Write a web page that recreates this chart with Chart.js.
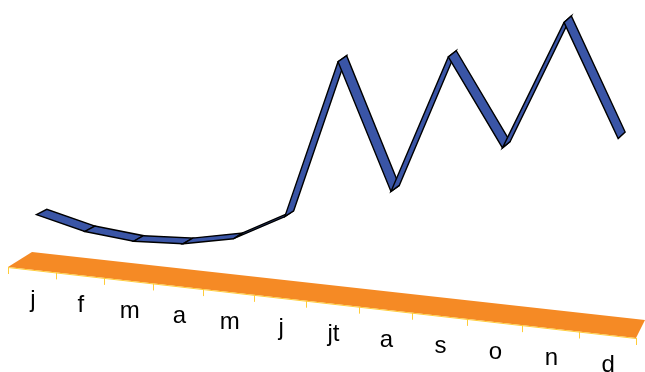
<!DOCTYPE html>
<html>
<head>
<meta charset="utf-8">
<script src="https://cdn.jsdelivr.net/npm/chart.js@4/dist/chart.umd.min.js"></script>
<style>
  html, body { margin: 0; padding: 0; background: #ffffff; }
  #wrap { width: 645px; height: 372px; position: relative; }
</style>
</head>
<body>
<div id="wrap"><canvas id="chart"></canvas></div>
<script>
// Monthly categories and values of the ribbon series
const months = ['j', 'f', 'm', 'a', 'm', 'j', 'jt', 'a', 's', 'o', 'n', 'd'];
const values = [56, 43, 38, 41, 52, 81, 249, 118, 262, 173, 305, 192];

// Perspective view of the 3D plot: floor corners and camera settings
const VIEW = {
  front0: [8, 267], front1: [636, 338],
  back0: [32, 252], back1: [645, 320],
  persp: 1.107,       // depth ratio between left and right end of the floor
  lean: 0.00014,      // vertical lines spread out as they rise
  centerX: 300,
  ribbonDepth: 0.28,  // where the front edge of the ribbon sits on the floor
  ribbonLeft: [10.5, -5.3],   // ribbon thickness vector at the left end
  ribbonRight: [6.8, -6.6]    // ... and at the right end
};

function warp(u) {
  const w = u + VIEW.persp * (1 - u);
  return { g: u / w, s: 1 / w };
}

function project(u, d, h) {
  const { g, s } = warp(u);
  const fx = VIEW.front0[0] + (VIEW.front1[0] - VIEW.front0[0]) * g;
  const fy = VIEW.front0[1] + (VIEW.front1[1] - VIEW.front0[1]) * g;
  const bx = VIEW.back0[0] + (VIEW.back1[0] - VIEW.back0[0]) * g;
  const by = VIEW.back0[1] + (VIEW.back1[1] - VIEW.back0[1]) * g;
  const px = fx + d * (bx - fx), py = fy + d * (by - fy);
  const hs = h * s;
  return [px + VIEW.lean * (px - VIEW.centerX) * hs, py - hs];
}

const ribbon3d = {
  id: 'ribbon3d',
  afterDatasetsDraw(chart) {
    const ctx = chart.ctx;
    const xs = chart.scales.x, ys = chart.scales.y;
    const area = chart.chartArea;
    const uOf = px => (px - area.left) / (area.right - area.left);
    const step = xs.getPixelForValue(1) - xs.getPixelForValue(0);
    ctx.save();

    // floor
    const f0 = project(0, 0, 0), f1 = project(1, 0, 0), b1 = project(1, 1, 0), b0 = project(0, 1, 0);
    ctx.beginPath();
    ctx.moveTo(f0[0], f0[1]); ctx.lineTo(f1[0], f1[1]);
    ctx.lineTo(b1[0], b1[1]); ctx.lineTo(b0[0], b0[1]); ctx.closePath();
    ctx.fillStyle = '#F58A25';
    ctx.fill();
    ctx.strokeStyle = '#FFCC3A';
    ctx.lineWidth = 1;
    ctx.beginPath(); ctx.moveTo(f0[0], f0[1] + 0.5); ctx.lineTo(f1[0], f1[1] + 0.5); ctx.stroke();

    // tick marks between categories
    for (let i = 0; i <= months.length; i++) {
      const u = uOf(xs.getPixelForValue(i) - step / 2);
      const p = project(u, 0, 0);
      ctx.beginPath();
      ctx.moveTo(Math.round(p[0]) + 0.5, p[1]);
      ctx.lineTo(Math.round(p[0]) + 0.5, p[1] + 7);
      ctx.stroke();
    }

    // category labels
    ctx.fillStyle = '#000000';
    ctx.font = '24px "Liberation Sans", Arial, sans-serif';
    ctx.textAlign = 'center';
    ctx.textBaseline = 'alphabetic';
    months.forEach((m, i) => {
      const pa = project(uOf(xs.getPixelForValue(i) - step / 2), 0, 0);
      const pb = project(uOf(xs.getPixelForValue(i) + step / 2), 0, 0);
      ctx.fillText(m, (pa[0] + pb[0]) / 2 + 1, (pa[1] + pb[1]) / 2 + 37);
    });

    // ribbon
    const pts = chart.getDatasetMeta(0).data;
    const zero = ys.getPixelForValue(0);
    const front = [], back = [];
    pts.forEach(pt => {
      const u = uOf(pt.x), h = zero - pt.y;
      const { g } = warp(u);
      const p = project(u, VIEW.ribbonDepth, h);
      const ox = VIEW.ribbonLeft[0] + (VIEW.ribbonRight[0] - VIEW.ribbonLeft[0]) * g;
      const oy = VIEW.ribbonLeft[1] + (VIEW.ribbonRight[1] - VIEW.ribbonLeft[1]) * g;
      front.push(p);
      back.push([p[0] + ox, p[1] + oy]);
    });
    ctx.fillStyle = '#3A55A6';
    ctx.strokeStyle = '#000000';
    ctx.lineWidth = 1.4;
    ctx.lineJoin = 'miter';
    for (let i = 0; i < front.length - 1; i++) {
      ctx.beginPath();
      ctx.moveTo(front[i][0], front[i][1]);
      ctx.lineTo(front[i + 1][0], front[i + 1][1]);
      ctx.lineTo(back[i + 1][0], back[i + 1][1]);
      ctx.lineTo(back[i][0], back[i][1]);
      ctx.closePath();
      ctx.fill();
      ctx.stroke();
    }
    ctx.restore();
  }
};

new Chart(document.getElementById('chart'), {
  type: 'line',
  data: {
    labels: months,
    datasets: [{ label: 'Series', data: values, showLine: false, pointRadius: 0 }]
  },
  options: {
    responsive: true,
    maintainAspectRatio: false,
    animation: false,
    layout: { padding: 0 },
    plugins: { legend: { display: false }, tooltip: { enabled: false } },
    scales: {
      x: { display: false, offset: true },
      y: { display: false, min: 0, max: 372 }
    }
  },
  plugins: [ribbon3d]
});
</script>
</body>
</html>
